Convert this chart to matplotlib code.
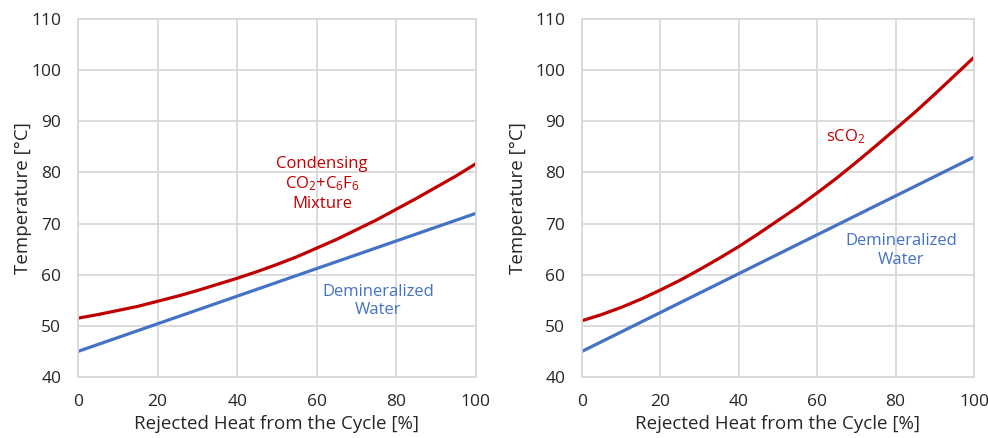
import matplotlib.pyplot as plt
import numpy as np

plt.rcParams["font.family"] = ["Open Sans", "DejaVu Sans"]
plt.rcParams["mathtext.default"] = "regular"

# Rejected heat [%]
heat = [0, 5, 10, 15, 20, 25, 30, 35, 40, 45, 50,
        55, 60, 65, 70, 75, 80, 85, 90, 95, 100]

# Left: condensing CO2+C6F6 mixture vs demineralized water
mix_temp = [51.5, 52.2, 53.0, 53.8, 54.8, 55.8, 56.9, 58.1, 59.3, 60.6, 62.0,
            63.5, 65.2, 66.9, 68.8, 70.7, 72.8, 74.9, 77.1, 79.3, 81.7]
water_left = [45.0, 46.35, 47.7, 49.05, 50.4, 51.75, 53.1, 54.45, 55.8, 57.15, 58.5,
              59.85, 61.2, 62.55, 63.9, 65.25, 66.6, 67.95, 69.3, 70.65, 72.0]

# Right: sCO2 vs demineralized water
sco2_temp = [51.0, 52.2, 53.6, 55.2, 57.0, 58.9, 61.0, 63.2, 65.5, 68.0, 70.6,
             73.2, 76.0, 78.9, 82.0, 85.2, 88.5, 91.8, 95.3, 98.9, 102.5]
water_right = [45.0, 46.9, 48.8, 50.7, 52.6, 54.5, 56.4, 58.3, 60.2, 62.1, 64.0,
               65.9, 67.8, 69.7, 71.6, 73.5, 75.4, 77.3, 79.2, 81.1, 83.0]

red = "#C00000"
blue = "#4472C4"
grid = "#D9D9D9"
txt = "#262626"

fig = plt.figure(figsize=(9.88, 4.38), dpi=100)
ax1 = fig.add_axes([0.0789, 0.1393, 0.4028, 0.8174])
ax2 = fig.add_axes([0.589, 0.1393, 0.3968, 0.8174])

for ax in (ax1, ax2):
    ax.set_xlim(0, 100)
    ax.set_ylim(40, 110)
    ax.set_xticks(np.arange(0, 101, 20))
    ax.set_yticks(np.arange(40, 111, 10))
    ax.grid(True, color=grid, linewidth=1.3)
    ax.set_axisbelow(True)
    for s in ax.spines.values():
        s.set_color(grid)
        s.set_linewidth(1.3)
    ax.tick_params(length=0, labelsize=12.5, colors=txt, pad=12)
    ax.set_xlabel("Rejected Heat from the Cycle [%]", fontsize=13.5, color=txt,
                  labelpad=4)
    ax.set_ylabel("Temperature [°C]", fontsize=13.5, color=txt)

ax1.plot(heat, water_left, color=blue, linewidth=2.3)
ax1.plot(heat, mix_temp, color=red, linewidth=2.3)
ax1.text(61.3, 77.8, "Condensing\nCO$_2$+C$_6$F$_6$\nMixture", color=red,
         fontsize=12, ha="center", va="center", linespacing=1.2)
ax1.text(75.4, 54.8, "Demineralized\nWater", color=blue,
         fontsize=12, ha="center", va="center", linespacing=1.2)

ax2.plot(heat, water_right, color=blue, linewidth=2.3)
ax2.plot(heat, sco2_temp, color=red, linewidth=2.3)
ax2.text(67.3, 86.9, "sCO$_2$", color=red, fontsize=12, ha="center", va="center")
ax2.text(81.4, 64.7, "Demineralized\nWater", color=blue,
         fontsize=12, ha="center", va="center", linespacing=1.2)

ax1.yaxis.set_label_coords(-0.116, 0.5)
ax2.yaxis.set_label_coords(-0.14, 0.5)

fig.savefig("out.png", dpi=100)
